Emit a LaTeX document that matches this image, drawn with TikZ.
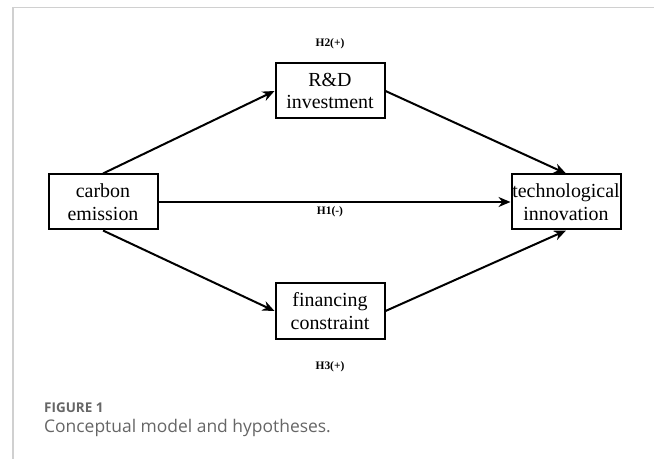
\documentclass[tikz,border=0pt]{standalone}
\usepackage{fontspec}
\setmainfont{Liberation Serif}
\newfontfamily\capfont{Open Sans}
\usetikzlibrary{arrows.meta}
\definecolor{framegray}{HTML}{D0D0D0}
\definecolor{capgray}{HTML}{666666}
\begin{document}
\begin{tikzpicture}[x=1bp,y=-1bp,
  box/.style={draw,line width=2bp,minimum width=109bp,minimum height=55bp,inner sep=0pt,align=center,font=\fontsize{20}{23}\selectfont},
  conn/.style={line width=2bp,-{Stealth[length=12bp,width=10bp]}},
  hlab/.style={font=\fontsize{11.5}{13}\selectfont\bfseries}]
\useasboundingbox (0,0) rectangle (654,459);
\fill[white] (0,0) rectangle (654,459);
\draw[framegray,line width=1.5bp] (13,459) -- (13,7.5) -- (654,7.5);
\node[box] (ce) at (103,202) {carbon\\emission};
\node[box] (ti) at (566,202) {technological\\innovation};
\node[box] (rd) at (330,91) {R\&D\\investment};
\node[box] (fc) at (330,311) {financing\\constraint};
\draw[conn] (ce.north) -- (rd.west);
\draw[conn] (rd.east) -- (ti.north);
\draw[conn] (ce.east) -- (ti.west);
\draw[conn] (ce.south) -- (fc.west);
\draw[conn] (fc.east) -- (ti.south);
\node[hlab] (h2) at (330,44) {H2(+)};
\node[hlab] (h1) at (330,212) {H1(-)};
\node[hlab] (h3) at (330,367) {H3(+)};
\node[anchor=west,text=capgray,font=\capfont\fontsize{13.5}{15}\selectfont\bfseries,inner sep=0pt] (fig) at (44,408) {FIGURE 1};
\node[anchor=west,text=capgray,font=\capfont\fontsize{17.5}{19}\selectfont,inner sep=0pt] (cap) at (44,428) {Conceptual model and hypotheses.};
\end{tikzpicture}
\end{document}
